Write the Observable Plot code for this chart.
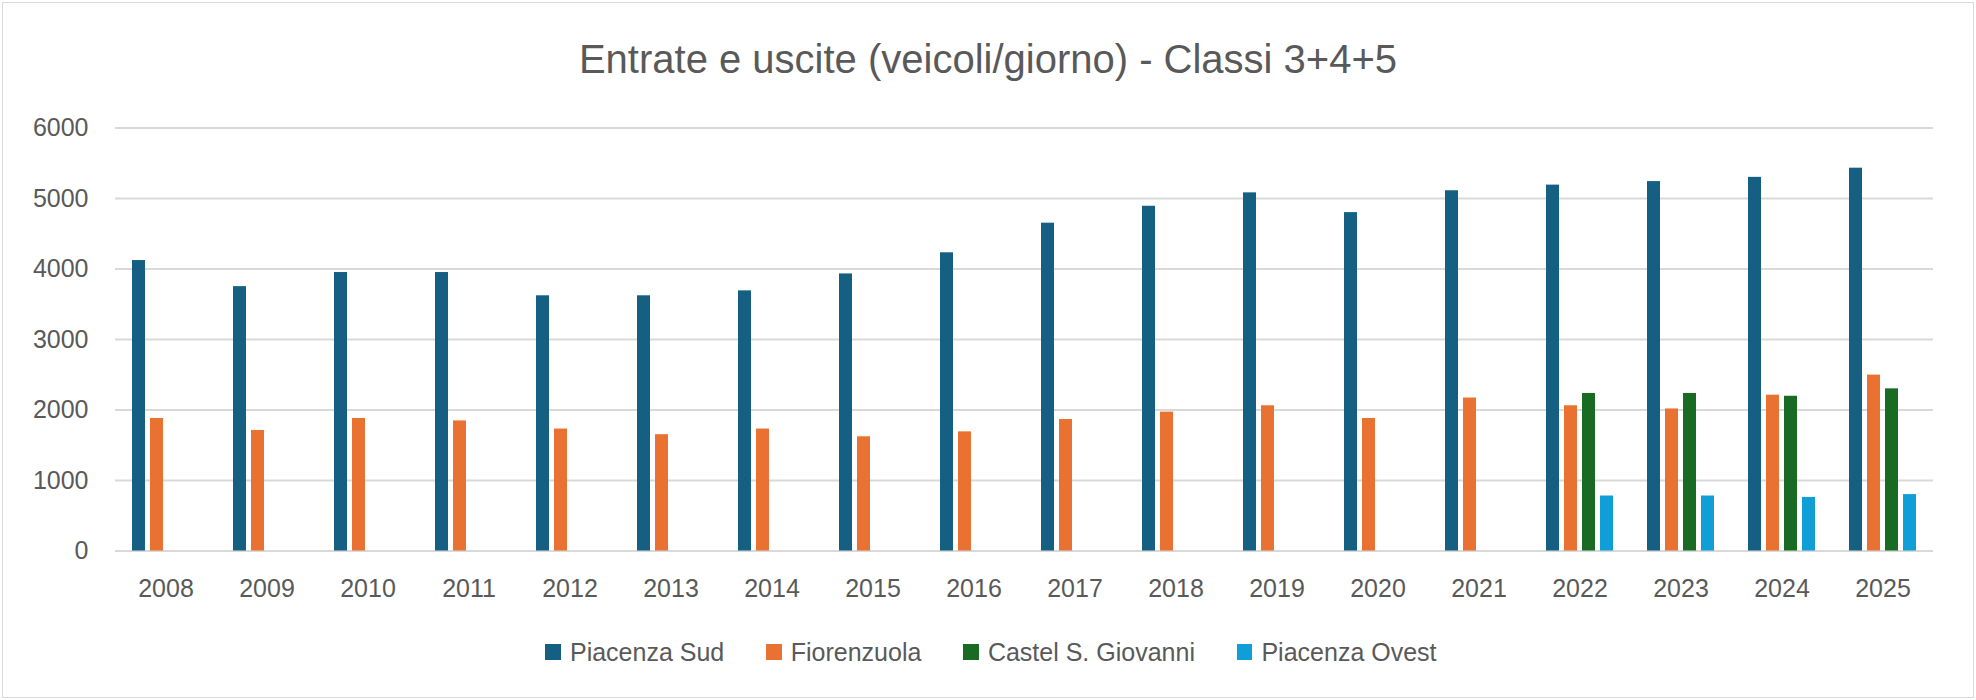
<!DOCTYPE html>
<html><head><meta charset="utf-8">
<script src="https://cdn.jsdelivr.net/npm/d3@7"></script>
<script src="https://cdn.jsdelivr.net/npm/@observablehq/plot@0.6"></script>
<style>
body{margin:0;background:#fff;}
#wrap{position:relative;width:1976px;height:700px;font-family:"Liberation Sans",Arial,sans-serif;color:#595959;overflow:hidden;}
#frame{position:absolute;left:2px;top:2px;width:1972px;height:696px;border:1.5px solid #d9d9d9;box-sizing:border-box;}
#title{position:absolute;top:36px;left:0;width:100%;text-align:center;font-size:40px;line-height:46px;}
#chart{position:absolute;left:0;top:100px;}
#legend{position:absolute;top:637px;left:0;width:100%;display:flex;justify-content:center;gap:42px;font-size:25px;line-height:30px;padding-left:6px;box-sizing:border-box;}
#legend .it{display:flex;align-items:center;gap:9px;}
#legend .sw{width:15.5px;height:15.5px;display:inline-block;}
</style>
</head><body>
<div id="wrap">
  <div id="frame"></div>
  <div id="title">Entrate e uscite (veicoli/giorno) - Classi 3+4+5</div>
  <div id="chart"></div>
  <div id="legend"></div>
</div>
<script>
const years = ["2008","2009","2010","2011","2012","2013","2014","2015","2016","2017","2018","2019","2020","2021","2022","2023","2024","2025"];
const seriesNames = ["Piacenza Sud","Fiorenzuola","Castel S. Giovanni","Piacenza Ovest"];
const seriesColors = ["#156082","#E97132","#196B24","#0F9ED5"];
const piacenzaSud = [4120,3750,3950,3950,3620,3620,3690,3930,4230,4650,4890,5080,4800,5110,5190,5240,5300,5430];
const fiorenzuola = [1880,1710,1880,1845,1730,1650,1730,1620,1690,1865,1970,2060,1880,2170,2060,2015,2210,2495];
const castelSGiovanni = [null,null,null,null,null,null,null,null,null,null,null,null,null,null,2235,2235,2195,2300];
const piacenzaOvest = [null,null,null,null,null,null,null,null,null,null,null,null,null,null,780,780,760,800];
const yTicks = [0,1000,2000,3000,4000,5000,6000];

const seriesValues = [piacenzaSud, fiorenzuola, castelSGiovanni, piacenzaOvest];
const table = [];
years.forEach((yr, i) => {
  seriesNames.forEach((s, j) => {
    const v = seriesValues[j][i];
    if (v != null) table.push({year: yr, series: s, value: v});
  });
});

const font = '"Liberation Sans",Arial,sans-serif';
const chart = Plot.plot({
  width: 1976, height: 520,
  marginLeft: 109, marginRight: 38, marginTop: 27.5, marginBottom: 69.5,
  fx: {domain: years, padding: 0, label: null},
  x: {domain: seriesNames, paddingInner: 0.263, paddingOuter: 0.885, axis: null},
  y: {domain: [0, 6000]},
  color: {domain: seriesNames, range: seriesColors},
  style: {fontFamily: font, color: "#595959", background: "transparent", fontSize: "25px"},
  marks: [
    Plot.ruleY(yTicks, {stroke: "#d9d9d9", strokeWidth: 2}),
    Plot.barY(table, {fx: "year", x: "series", y: "value", fill: "series"}),
    Plot.axisY({ticks: yTicks, tickSize: 0, tickPadding: 27, fontSize: 25, label: null, facetAnchor: "left", tickFormat: d => String(d)}),
    Plot.axisFx({anchor: "bottom", tickSize: 0, tickPadding: 28, fontSize: 25, label: null})
  ]
});
document.getElementById("chart").appendChild(chart);

const legend = document.getElementById("legend");
seriesNames.forEach((s, j) => {
  const it = document.createElement("div");
  it.className = "it";
  const sw = document.createElement("span");
  sw.className = "sw";
  sw.style.background = seriesColors[j];
  const t = document.createElement("span");
  t.textContent = s;
  it.appendChild(sw); it.appendChild(t);
  legend.appendChild(it);
});
</script>
</body></html>
